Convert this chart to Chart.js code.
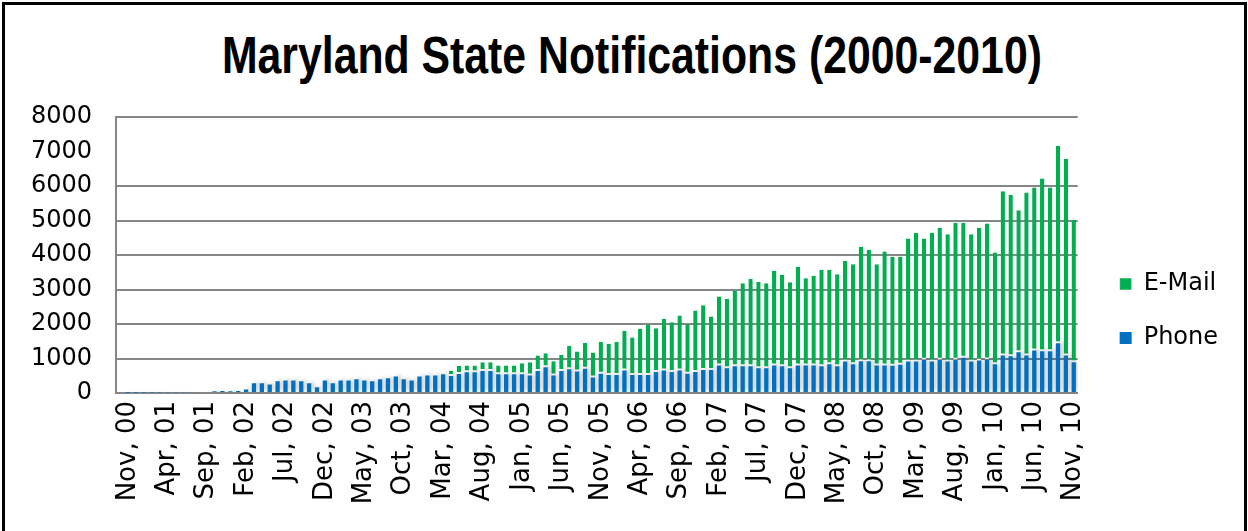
<!DOCTYPE html>
<html>
<head>
<meta charset="utf-8">
<script src="https://cdn.jsdelivr.net/npm/chart.js@4.4.1/dist/chart.umd.min.js"></script>
<style>
  html, body { margin: 0; padding: 0; background: #fff; }
  body { width: 1248px; height: 531px; position: relative; overflow: hidden; }
  #frame { position: absolute; left: 2px; top: 2px; width: 1245px; height: 540px; box-sizing: border-box; border: 3px solid #000; }
  #title { position: absolute; left: 8px; top: 30px; width: 1248px; text-align: center; white-space: nowrap;
           font-family: "Liberation Sans Narrow", "Liberation Sans", Arial, sans-serif; font-weight: bold; font-size: 51px; line-height: 51px; color: #000; }
  #title span { display: inline-block; transform-origin: center; }
  #chart { position: absolute; left: 0; top: 0; }
</style>
</head>
<body>
<div id="frame"></div>
<div id="title"><span id="titleText">Maryland State Notifications (2000-2010)</span></div>
<canvas id="chart" width="1248" height="531"></canvas>
<script>
// categorias: Oct 2000 .. Nov 2010, rotulo a cada 5 meses
const monthNames = ['Jan', 'Feb', 'Mar', 'Apr', 'May', 'Jun', 'Jul', 'Aug', 'Sep', 'Oct', 'Nov', 'Dec'];
const months = [];
for (let k = 0; k < 122; k++) {
    const m = (9 + k) % 12;
    const yy = (2000 + Math.floor((9 + k) / 12)) % 100;
    months.push(monthNames[m] + ', ' + String(yy).padStart(2, '0'));
}

const phone = [
    0, 10, 10, 15, 15, 15, 20, 20, 20, 25,
    30, 30, 50, 55, 50, 55,
    105, 280, 280, 250, 340, 365, 365, 340, 280, 165,
    365, 280, 365, 365, 395, 365, 340, 395, 425, 480,
    400, 365, 480, 510, 510, 540, 490, 550, 600, 600,
    640, 640, 540, 540, 540, 540, 510, 640, 745, 510,
    640, 690, 620, 700, 450, 555, 525, 525, 650, 525,
    525, 525, 610, 650, 610, 650, 555, 610, 670, 670,
    795, 715, 775, 775, 775, 715, 715, 800, 775, 715,
    800, 800, 800, 775, 830, 775, 910, 830, 920, 920,
    800, 795, 790, 820, 910, 910, 965, 910, 965, 910,
    965, 1025, 910, 940, 970, 830, 1090, 1065, 1180, 1090,
    1235, 1210, 1210, 1440, 1090, 890
];

const email = [
    0, 0, 0, 0, 0, 0, 0, 0, 0, 0,
    0, 0, 0, 0, 0, 0,
    0, 0, 0, 0, 0, 0, 0, 0, 0, 0,
    0, 0, 0, 0, 0, 0, 0, 0, 0, 0,
    0, 0, 0, 0, 0, 0, 150, 235, 200, 200,
    250, 250, 260, 260, 260, 320, 380, 450, 405, 410,
    460, 680, 585, 755, 725, 930, 900, 960, 1155, 1085,
    1340, 1455, 1265, 1505, 1440, 1595, 1435, 1780, 1875, 1545,
    2000, 2015, 2190, 2405, 2540, 2510, 2465, 2745, 2655, 2495,
    2860, 2525, 2600, 2800, 2745, 2665, 2925, 2900, 3320, 3235,
    2930, 3305, 3160, 3130, 3565, 3735, 3510, 3735, 3825, 3690,
    3970, 3910, 3690, 3850, 3940, 3245, 4755, 4685, 4115, 4725,
    4725, 5005, 4750, 5730, 5700, 4135
];

const yTicks = [0, 1000, 2000, 3000, 4000, 5000, 6000, 7000, 8000];

// titulo comprimido para a largura do original
const tt = document.getElementById('titleText');
tt.style.transform = 'scaleX(' + (820 / tt.getBoundingClientRect().width) + ')';

// sombra das barras
const barShadow = {
    id: 'barShadow',
    beforeDatasetsDraw(chart) {
        const c = chart.ctx;
        c.save();
        c.shadowColor = 'rgba(0,0,0,0.22)';
        c.shadowBlur = 4;
        c.shadowOffsetX = 3;
        c.shadowOffsetY = -1;
    },
    afterDatasetsDraw(chart) {
        chart.ctx.restore();
    }
};

// ajuste fino da posicao da legenda
const legendNudge = {
    id: 'legendNudge',
    afterLayout(chart) {
        const lg = chart.legend;
        lg.left += 12; lg.right += 12;
        lg.top -= 13; lg.bottom -= 13;
    }
};

const ctx = document.getElementById('chart').getContext('2d');
const chart = new Chart(ctx, {
    type: 'bar',
    data: {
        labels: months,
        datasets: [
            {
                label: 'Phone',
                data: phone,
                backgroundColor: '#0070C0',
                barPercentage: 0.55,
                categoryPercentage: 1
            },
            {
                label: 'E-Mail',
                data: email,
                backgroundColor: '#00B050',
                borderColor: '#FFFFFF',
                borderWidth: { bottom: 2, top: 0, left: 0, right: 0 },
                borderSkipped: false,
                barPercentage: 0.55,
                categoryPercentage: 1
            }
        ]
    },
    options: {
        responsive: false,
        animation: false,
        layout: { padding: { top: 117, right: 32, left: 0, bottom: 0 } },
        plugins: {
            legend: {
                position: 'right',
                reverse: true,
                labels: {
                    boxWidth: 12,
                    boxHeight: 12,
                    padding: 30,
                    color: '#000',
                    font: { family: 'DejaVu Sans', size: 24 }
                }
            },
            tooltip: { enabled: false }
        },
        scales: {
            x: {
                stacked: true,
                grid: { display: false, drawTicks: false },
                border: { color: '#868686', width: 2 },
                afterFit: (s) => { s.height = 138; },
                ticks: {
                    autoSkip: false,
                    minRotation: 90,
                    maxRotation: 90,
                    padding: 8,
                    color: '#000',
                    font: { family: 'DejaVu Sans', size: 26 },
                    callback: (v, i) => (i % 5 === 1 ? months[i] : '')
                }
            },
            y: {
                stacked: true,
                min: 0,
                max: 8000,
                afterBuildTicks: (s) => { s.ticks = yTicks.map(v => ({ value: v })); },
                afterFit: (s) => { s.width = 116; },
                grid: {
                    color: (c) => (c.tick && c.tick.value === 7000 ? 'rgba(0,0,0,0)' : '#868686'),
                    lineWidth: 2,
                    drawTicks: false
                },
                border: { color: '#868686', width: 2 },
                ticks: {
                    padding: 24,
                    color: '#000',
                    font: { family: 'DejaVu Sans', size: 24 },
                    callback: (v) => String(v)
                }
            }
        }
    },
    plugins: [barShadow, legendNudge]
});
</script>
</body>
</html>
